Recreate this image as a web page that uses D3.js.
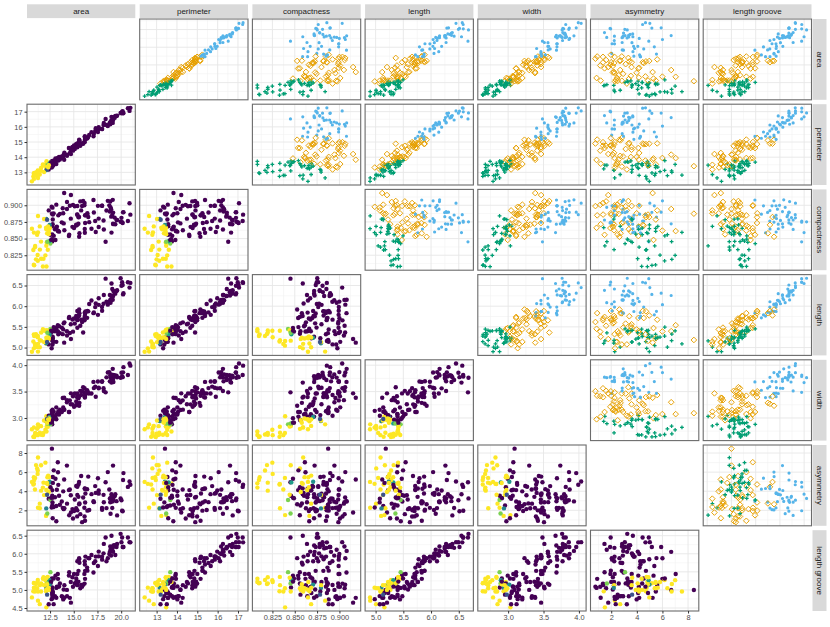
<!DOCTYPE html>
<html lang="en">
<head>
<meta charset="UTF-8">
<title>seeds pairs</title>
<script src="https://cdn.jsdelivr.net/npm/d3@7"></script>
<style>
  body { margin: 0; background: #fff; }
  text { font-family: "Liberation Sans", Arial, sans-serif; }
</style>
</head>
<body>
<svg id="chart" width="830" height="627"></svg>
<script>

// variable names (facet strips)
const varNames = ["area", "perimeter", "compactness", "length", "width", "asymmetry", "length groove"];

// measurements, one entry per kernel shown
const area = [
  15.26,14.29,13.84,16.14,14.69,16.63,16.44,
  15.26,13.89,13.74,14.59,13.99,15.69,14.7,12.72,
  15.88,12.08,16.19,13.02,12.74,13.45,
  13.16,15.49,13.94,16.12,16.2,17.08,14.28,
  13.54,13.16,15.5,15.11,15.36,14.86,
  15.78,14.49,14.52,15.03,14.92,15.38,12.11,
  11.42,11.23,12.36,13.22,12.78,12.88,14.01,12.73,
  17.63,17.26,19.11,17.32,20.71,17.12,
  16.53,20.2,19.57,19.51,18.88,18.98,20.88,
  20.1,18.81,18.59,18.36,16.87,19.31,18.17,
  16.41,17.99,19.18,18.95,18.85,17.63,19.94,
  18.45,19.38,19.14,20.97,19.06,19.15,20.03,
  20.24,18.14,16.17,15.99,18.75,17.98,20.16,17.55,
  18.94,15.38,16.16,15.56,15.38,15.57,15.6,16.23,
  13.07,13.32,13.34,12.22,11.21,11.43,12.49,12.7,10.79,
  12.01,12.26,11.19,12.13,11.75,
  12.54,12.55,11.14,12.1,12.44,12.15,
  11.02,11.55,10.83,10.8,10.74,12.21,
  12.46,12.19,12.89,11.56,11.81,10.91,11.23,10.59,
  10.93,11.87,12.11,12.8,12.79,13.37,12.62,12.76,
  12.38,12.67,12.7,12.37,12.19,12.3
];
const perimeter = [
  14.84,14.09,13.94,14.99,14.49,15.46,15.25,
  14.85,14.02,14.05,14.28,13.83,14.75,14.21,13.57,
  14.9,13.23,15.16,13.76,13.67,14.02,
  13.82,14.94,14.17,15,15.27,15.38,14.17,
  13.85,13.55,14.86,14.54,14.76,14.67,
  14.91,14.61,14.6,14.77,14.43,14.77,13.47,
  12.86,12.63,13.19,13.84,13.57,13.5,14.29,13.75,
  15.98,15.73,16.26,15.91,17.23,15.55,
  15.34,16.89,16.74,16.71,16.26,16.66,17.05,
  16.99,16.29,16.05,16.52,15.65,16.59,16.26,
  15.25,15.86,16.63,16.42,16.17,15.86,16.92,
  16.12,16.72,16.61,17.25,16.45,16.45,16.9,
  16.91,16.12,15.38,14.89,16.18,15.85,17.03,15.66,
  16.32,14.9,15.33,14.89,14.66,15.15,15.11,15.18,
  13.92,13.94,13.95,13.32,13.13,13.13,13.46,13.71,12.93,
  13.52,13.6,13.05,13.73,13.52,
  13.67,13.57,12.79,13.15,13.59,13.45,
  13,13.1,12.96,12.57,12.73,13.47,
  13.41,13.36,13.77,13.31,13.45,12.8,12.82,12.41,
  12.8,13.02,13.27,13.47,13.53,13.78,13.67,13.38,
  13.44,13.32,13.41,13.47,13.2,13.34
];
const compactness = [
  .871,.905,.8955,.9034,.8799,.8747,.888,
  .8696,.888,.8744,.8993,.9183,.9058,.9153,.8686,
  .8988,.8664,.8849,.8641,.8564,.8604,
  .8662,.8724,.8728,.9,.8734,.9079,.8944,
  .8871,.9009,.882,.8986,.8861,.8676,
  .8923,.8538,.8557,.8658,.9006,.8857,.8392,
  .8683,.884,.8923,.868,.8716,.8879,.8625,.8458,
  .8673,.8763,.9081,.8599,.8763,.8892,
  .8823,.8894,.8779,.878,.8969,.859,.9031,
  .8746,.8906,.9066,.8452,.8648,.8815,.8637,
  .8866,.8992,.8717,.8829,.9056,.88,.8752,
  .8921,.8716,.8722,.8859,.8854,.889,.8811,
  .8897,.8772,.8588,.9064,.8999,.8993,.8735,.8991,
  .8942,.8706,.8644,.8823,.899,.8527,.858,.885,
  .848,.8613,.862,.8652,.8167,.8335,.8658,.8491,.8107,
  .8249,.8333,.8253,.8081,.8082,
  .8425,.8558,.8558,.8793,.8462,.8443,
  .8189,.8455,.8099,.859,.8329,.8453,
  .8706,.8579,.8541,.8198,.8198,.8372,.8594,.8648,
  .839,.8795,.8639,.886,.8786,.8849,.8481,.8964,
  .8609,.8977,.8874,.8567,.8783,.8684
];
const kernelLength = [
  5.763,5.291,5.324,5.658,5.563,6.053,5.884,
  5.714,5.439,5.482,5.351,5.119,5.527,5.205,5.226,
  5.618,5.099,5.833,5.395,5.395,5.516,
  5.454,5.757,5.585,5.709,5.826,5.832,5.397,
  5.348,5.138,5.877,5.579,5.701,5.678,
  5.674,5.715,5.741,5.702,5.384,5.662,5.159,
  5.008,4.902,5.076,5.395,5.262,5.139,5.609,5.412,
  6.191,5.978,6.154,6.064,6.579,5.85,
  5.875,6.285,6.384,6.366,6.084,6.549,6.45,
  6.581,6.272,6.037,6.666,6.139,6.341,6.271,
  5.718,5.89,6.369,6.248,6.152,6.033,6.675,
  6.107,6.303,6.259,6.563,6.416,6.245,6.493,
  6.315,6.059,5.762,5.363,6.111,5.979,6.513,5.791,
  6.144,5.884,5.845,5.776,5.477,5.92,5.832,5.872,
  5.472,5.541,5.389,5.224,5.279,5.176,5.267,5.386,5.317,
  5.405,5.408,5.25,5.394,5.444,
  5.451,5.333,5.011,5.105,5.319,5.417,
  5.325,5.167,5.278,4.981,5.145,5.357,
  5.236,5.24,5.495,5.363,5.413,5.088,5.089,4.899,
  5.046,5.132,5.236,5.16,5.224,5.32,5.41,5.073,
  5.219,4.984,5.183,5.204,5.137,5.243
];
const kernelWidth = [
  3.312,3.337,3.379,3.562,3.259,3.465,3.505,
  3.242,3.199,3.114,3.333,3.383,3.514,3.466,3.049,
  3.507,2.936,3.421,3.026,2.956,3.065,
  2.975,3.371,3.15,3.485,3.464,3.683,3.298,
  3.156,3.201,3.396,3.462,3.393,3.258,
  3.434,3.113,3.113,3.212,3.412,3.419,3.032,
  2.85,2.879,3.042,3.07,3.026,3.119,3.158,2.882,
  3.561,3.594,3.93,3.403,3.814,3.566,
  3.467,3.864,3.772,3.801,3.764,3.67,4.032,
  3.785,3.693,3.86,3.485,3.463,3.81,3.512,
  3.525,3.694,3.681,3.755,3.806,3.573,3.763,
  3.769,3.791,3.737,3.991,3.719,3.815,3.857,
  3.962,3.563,3.387,3.582,3.869,3.687,3.773,3.69,
  3.825,3.268,3.395,3.408,3.465,3.231,3.286,3.472,
  2.994,3.073,3.074,2.967,2.687,2.719,2.967,2.911,2.648,
  2.776,2.833,2.675,2.745,2.678,
  2.879,2.968,2.794,2.941,2.897,2.837,
  2.701,2.845,2.641,2.821,2.642,2.893,
  3.017,2.909,3.026,2.683,2.716,2.675,2.821,2.787,
  2.717,2.953,2.975,3.126,3.054,3.128,2.911,3.155,
  2.989,3.135,3.091,2.96,2.981,2.974
];
const asymmetry = [
  2.221,2.699,2.259,1.355,3.586,2.04,1.969,
  4.543,3.986,2.932,4.185,5.234,1.599,1.767,4.102,
  0.7651,1.415,0.903,3.373,2.504,3.531,
  0.8551,3.412,2.124,2.27,2.823,2.956,6.685,
  2.587,2.461,4.711,3.128,1.367,2.129,
  5.593,4.116,1.481,1.933,1.142,1.999,1.502,
  2.7,2.269,3.22,4.157,1.176,2.352,2.217,3.533,
  4.076,4.539,2.936,3.824,4.451,2.858,
  5.532,5.173,1.472,2.962,1.649,3.691,5.016,
  1.955,3.237,6.001,4.933,3.696,3.477,2.853,
  4.217,2.068,3.357,3.368,2.843,3.747,3.252,
  2.235,3.678,6.682,4.677,2.248,3.084,3.063,
  5.901,3.619,4.286,3.336,4.188,2.257,1.91,5.366,
  2.908,4.462,4.266,4.972,3.6,2.64,2.725,3.769,
  5.304,7.035,5.995,5.469,6.169,2.221,4.421,3.26,5.462,
  6.992,4.756,5.813,4.825,4.378,
  3.082,4.419,6.388,2.201,4.924,3.638,
  6.735,6.715,5.182,4.773,4.702,1.661,
  4.987,4.857,6.185,4.062,4.898,4.179,7.524,4.975,
  5.398,3.597,4.132,4.873,5.483,4.67,3.306,2.828,
  5.472,2.3,8.456,3.919,3.631,5.637
];
const lengthGroove = [
  5.22,4.825,4.805,5.175,5.219,5.877,5.533,
  5.314,4.738,4.825,4.781,4.781,5.046,4.649,4.914,
  5.091,4.961,5.307,4.825,4.869,5.097,
  5.056,5.228,5.012,5.443,5.527,5.484,5.001,
  5.178,4.783,5.528,5.18,5.132,5.351,
  5.136,5.396,5.487,5.439,5.088,5.222,4.519,
  4.607,4.703,4.605,5.088,4.782,4.607,5.132,5.067,
  6.06,5.791,6.079,5.922,6.451,5.746,
  5.88,6.187,6.273,6.185,6.109,6.498,6.321,
  6.449,6.053,5.877,6.448,5.967,6.238,6.273,
  5.618,5.837,6.229,6.148,6.2,5.929,6.55,
  5.794,5.965,6.053,6.316,6.163,6.185,6.32,
  6.188,6.011,5.703,5.144,5.992,5.919,6.185,5.661,
  5.949,5.795,5.795,5.847,5.439,5.879,5.752,5.922,
  5.395,5.44,5.307,5.221,5.275,5.132,5.002,5.316,5.194,
  5.27,5.36,5.219,5.22,5.31,
  5.491,5.176,5.049,5.056,5.27,5.338,
  5.163,4.956,5.185,5.063,4.963,5.178,
  5.147,5.158,5.316,5.182,5.352,4.956,4.957,4.794,
  5.045,5.132,5.012,4.914,4.958,5.091,5.231,4.83,
  5.045,4.745,5,5.001,4.87,5.063
];

// upper triangle groups: 1 = orange, 2 = blue, 3 = green
const cluster = [
  1,1,1,1,1,2,1,
  1,1,1,1,1,1,1,3,
  1,3,1,1,1,1,
  1,1,1,1,1,2,1,
  1,1,1,1,1,1,
  1,1,1,1,1,1,3,
  3,3,1,1,1,1,1,3,
  2,2,2,2,2,2,
  2,2,2,2,2,2,2,
  2,2,2,2,2,2,2,
  2,2,2,2,2,2,2,
  2,2,2,2,2,2,2,
  2,2,2,1,2,2,2,2,
  2,1,2,1,1,1,1,2,
  1,1,1,3,3,3,3,3,3,
  3,3,3,3,3,
  3,3,3,3,3,3,
  3,3,3,3,3,3,
  3,3,3,3,3,3,3,3,
  3,3,3,1,1,1,3,1,
  3,1,1,3,3,3
];

// lower triangle colour score (0 = purple ... 1 = yellow)
const score = [
  0,0,0,0,0,0,0,
  0,0,0,0,0,0,0,0,
  0,1,0,0,0,0,
  0,0,0,0,0,0,0,
  0,0,0,0,0,0,
  0,0,0,0,0,0,1,
  1,1,0,0,0,0,0,0,
  0,0,0,0,0,0,
  0,0,0,0,0,0,0,
  0,0,0,0,0,0,0,
  0,0,0,0,0,0,0,
  0,0,0,0,0,0,0,
  0,0,0,0,0,0,0,0,
  0,0,0,0,0,0,0,0,
  0,0,0,1,1,1,1,0,1,
  1,1,1,1,1,
  .8,0,1,.45,.55,1,
  1,1,1,1,1,.8,
  .5,1,0,1,1,1,1,1,
  1,1,1,0,0,0,0,0,
  1,0,0,1,.25,1
];

// axis breaks
const areaTicks = [12.5, 15, 17.5, 20];
const perimeterTicks = [13, 14, 15, 16, 17];
const compactnessTicks = [0.825, 0.85, 0.875, 0.9];
const lengthTicks = [5, 5.5, 6, 6.5];
const widthTicks = [3, 3.5, 4];
const asymmetryTicks = [2, 4, 6, 8];
const grooveTicks = [4.5, 5, 5.5, 6, 6.5];

const columns = [area, perimeter, compactness, kernelLength, kernelWidth, asymmetry, lengthGroove];
const ticks = [areaTicks, perimeterTicks, compactnessTicks, lengthTicks, widthTicks, asymmetryTicks, grooveTicks];
const fmts = [".1f", "d", ".3f", ".1f", ".1f", "d", ".1f"].map(f => d3.format(f));

const groupColor = {1: "#E69F00", 2: "#56B4E9", 3: "#009E73"};

// layout
const leftX = 27, topY = 19, pw = 108.3, ph = 80.8, gap = 4.4;
const nVar = varNames.length;

const svg = d3.select("#chart");
svg.append("rect").attr("width", 830).attr("height", 627).attr("fill", "#fff");

// one scale per variable, 5% padding like ggplot
function domainOf(v) {
  const e = d3.extent(v);
  const pad = (e[1] - e[0]) * 0.05;
  return [e[0] - pad, e[1] + pad];
}
const doms = columns.map(domainOf);

function minorBreaks(t, dom) {
  const step = t[1] - t[0];
  const out = [];
  const all = [t[0] - step].concat(t, [t[t.length - 1] + step]);
  for (let k = 0; k < all.length - 1; k++) {
    const m = (all[k] + all[k + 1]) / 2;
    if (m > dom[0] && m < dom[1]) out.push(m);
  }
  return out;
}

const idx = d3.range(area.length);

for (let i = 0; i < nVar; i++) {
  for (let j = 0; j < nVar; j++) {
    if (i === j) continue;
    const x0 = leftX + j * (pw + gap);
    const y0 = topY + i * (ph + gap);
    const xs = d3.scaleLinear().domain(doms[j]).range([0, pw]);
    const ys = d3.scaleLinear().domain(doms[i]).range([ph, 0]);
    const g = svg.append("g").attr("transform", `translate(${x0},${y0})`);

    g.append("rect").attr("width", pw).attr("height", ph).attr("fill", "#fff");

    // minor grid
    g.selectAll(".mx").data(minorBreaks(ticks[j], doms[j])).enter().append("line")
      .attr("x1", d => xs(d)).attr("x2", d => xs(d)).attr("y1", 0).attr("y2", ph)
      .attr("stroke", "#F2F2F2").attr("stroke-width", 0.6);
    g.selectAll(".my").data(minorBreaks(ticks[i], doms[i])).enter().append("line")
      .attr("y1", d => ys(d)).attr("y2", d => ys(d)).attr("x1", 0).attr("x2", pw)
      .attr("stroke", "#F2F2F2").attr("stroke-width", 0.6);
    // major grid
    g.selectAll(".gx").data(ticks[j]).enter().append("line")
      .attr("x1", d => xs(d)).attr("x2", d => xs(d)).attr("y1", 0).attr("y2", ph)
      .attr("stroke", "#E6E6E6").attr("stroke-width", 0.9);
    g.selectAll(".gy").data(ticks[i]).enter().append("line")
      .attr("y1", d => ys(d)).attr("y2", d => ys(d)).attr("x1", 0).attr("x2", pw)
      .attr("stroke", "#E6E6E6").attr("stroke-width", 0.9);

    const cx = k => xs(columns[j][k]);
    const cy = k => ys(columns[i][k]);

    if (i > j) {
      // lower: viridis points
      g.selectAll("circle").data(idx).enter().append("circle")
        .attr("cx", cx).attr("cy", cy).attr("r", 2.2)
        .attr("fill", k => d3.interpolateViridis(score[k]));
    } else {
      // upper: shape by group
      g.selectAll("path").data(idx).enter().append("path")
        .attr("transform", k => {
          const rot = cluster[k] === 1 ? " rotate(45)" : "";
          return `translate(${cx(k)},${cy(k)})${rot}`;
        })
        .attr("d", k => {
          if (cluster[k] === 1) return d3.symbol(d3.symbolSquare, 16)();
          if (cluster[k] === 2) return d3.symbol(d3.symbolCircle, 8)();
          return d3.symbol(d3.symbolCross, 8)();
        })
        .attr("fill", k => cluster[k] === 1 ? "none" : groupColor[cluster[k]])
        .attr("stroke", k => cluster[k] === 1 ? groupColor[1] : "none")
        .attr("stroke-width", 0.9);
    }

    g.append("rect").attr("width", pw).attr("height", ph)
      .attr("fill", "none").attr("stroke", "#6b6b6b").attr("stroke-width", 1.1);

    // y axis on first column
    if (j === 0) {
      const ay = g.append("g").call(d3.axisLeft(ys).tickValues(ticks[i]).tickFormat(fmts[i]).tickSize(2.5).tickPadding(2));
      ay.select(".domain").remove();
      ay.selectAll("line").attr("stroke", "#333");
      ay.selectAll("text").attr("fill", "#4D4D4D").style("font-size", "7.4px")
        .style("font-family", "Liberation Sans, Arial, sans-serif");
    }
    // x axis on bottom row
    if (i === nVar - 1) {
      const ax = g.append("g").attr("transform", `translate(0,${ph})`)
        .call(d3.axisBottom(xs).tickValues(ticks[j]).tickFormat(fmts[j]).tickSize(2.5).tickPadding(1.5));
      ax.select(".domain").remove();
      ax.selectAll("line").attr("stroke", "#333");
      ax.selectAll("text").attr("fill", "#4D4D4D").style("font-size", "7.4px")
        .style("font-family", "Liberation Sans, Arial, sans-serif");
    }
  }
}

// top strips
varNames.forEach((label, j) => {
  const x0 = leftX + j * (pw + gap);
  svg.append("rect").attr("x", x0).attr("y", 4.3).attr("width", pw).attr("height", 13.8).attr("fill", "#D9D9D9");
  svg.append("text").attr("x", x0 + pw / 2).attr("y", 11.4)
    .attr("text-anchor", "middle").attr("dominant-baseline", "central")
    .attr("fill", "#1A1A1A").style("font-size", "8px").text(label);
});

// right strips
varNames.forEach((label, i) => {
  const y0 = topY + i * (ph + gap);
  const xr = leftX + nVar * pw + (nVar - 1) * gap + 1;
  svg.append("rect").attr("x", xr).attr("y", y0).attr("width", 14).attr("height", ph).attr("fill", "#D9D9D9");
  svg.append("text").attr("transform", `translate(${xr + 7},${y0 + ph / 2}) rotate(90)`)
    .attr("text-anchor", "middle").attr("dominant-baseline", "central")
    .attr("fill", "#1A1A1A").style("font-size", "8px").text(label);
});
</script>
</body>
</html>
